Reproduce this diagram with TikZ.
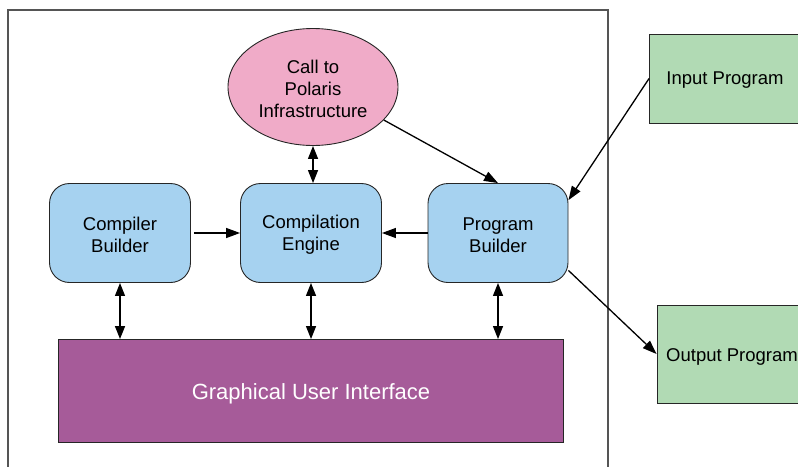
\documentclass[tikz,border=0pt]{standalone}
\usepackage{fontspec}
\setmainfont{Liberation Sans}
\usetikzlibrary{shapes.geometric,arrows.meta,calc}
\definecolor{boxblue}{HTML}{A6D2F0}
\definecolor{boxpink}{HTML}{F0ABC8}
\definecolor{boxgreen}{HTML}{B1DAB4}
\definecolor{boxpurple}{HTML}{A65B99}
\definecolor{framegray}{HTML}{555555}
\newcommand{\dn}[2][2pt]{\raisebox{-#1}[\height][\depth]{#2}}
\begin{document}
\begin{tikzpicture}[x=1pt,y=-1pt,
  every node/.style={font=\fontsize{18.5}{22}\selectfont, align=center, inner sep=0pt},
  bluebox/.style={draw=black!85, line width=0.9pt, fill=boxblue, rounded corners=20pt, minimum width=141pt, minimum height=99pt},
  greenbox/.style={draw=black!85, line width=0.9pt, fill=boxgreen, minimum width=151pt, minimum height=89pt},
  conn/.style={line width=1.3pt, -{Triangle[length=14pt,width=10pt]}},
  dconn/.style={line width=1.3pt, {Triangle[length=13pt,width=10pt]}-{Triangle[length=13pt,width=10pt]}}
]
\useasboundingbox (0,0) rectangle (798,466);
\draw[framegray, line width=1.1pt] (8,470) -- (8,10) -- (608,10) -- (608,470);

\node[ellipse, draw=black!85, line width=0.9pt, fill=boxpink, minimum width=170pt, minimum height=117pt] (ell) at (313,87) {\dn{Call to}\\\dn{Polaris}\\\dn{Infrastructure}};
\node[bluebox] (cb) at (120,233) {\dn{Compiler}\\\dn{Builder}};
\node[bluebox] (ce) at (311,233) {\dn{Compilation}\\\dn{Engine}};
\node[bluebox, minimum width=140pt] (pb) at (498,233) {\dn{Program}\\\dn{Builder}};
\node[draw=black!85, line width=0.9pt, fill=boxpurple, minimum width=505pt, minimum height=103pt, text=white, font=\fontsize{22}{26}\selectfont] (gui) at (311,391) {\dn[3pt]{Graphical User Interface}};
\node[greenbox] (inp) at (725,78.5) {\dn{Input Program}};
\node[greenbox, minimum width=150pt, minimum height=98pt] (out) at (732,354) {\dn[3pt]{Output Program}};

\draw[conn] (ell.-25) -- (pb.north);
\draw[conn] (inp.west) -- (pb.25);
\draw[conn] (pb.-28) -- (out.west);
\draw[conn, shorten <=3pt] (cb.east) -- (ce.west);
\draw[conn] (pb.west) -- (ce.east);
\draw[dconn] (ell.south) -- (ell.south |- ce.north);
\draw[dconn] (cb.south) -- (cb.south |- gui.north);
\draw[dconn] (ce.south) -- (ce.south |- gui.north);
\draw[dconn] (pb.south) -- (pb.south |- gui.north);
\end{tikzpicture}
\end{document}
